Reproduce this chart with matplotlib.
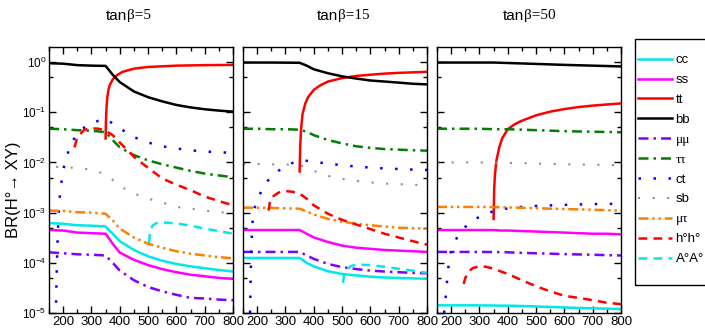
import matplotlib
matplotlib.use("Agg")
from matplotlib import pyplot as plt
from matplotlib.lines import Line2D
from matplotlib.patches import Rectangle
from matplotlib.ticker import LogLocator, MultipleLocator, NullFormatter

# common mass grid (GeV)
m = [150, 200, 250, 300, 350, 375, 400, 450, 500, 550, 600, 650, 700, 750, 800]

# ---- tan(beta) = 5 ----
bb_5 = [0.95, 0.93, 0.87, 0.85, 0.84, 0.56, 0.4, 0.26, 0.2, 0.165, 0.14, 0.125, 0.115, 0.108, 0.103]
tautau_5 = [0.047, 0.046, 0.044, 0.043, 0.04, 0.028, 0.02, 0.014, 0.011, 0.0092, 0.0079, 0.0068, 0.006, 0.0055, 0.0051]
mutau_5 = [0.0011, 0.00108, 0.00102, 0.001, 0.00095, 0.0007, 0.00048, 0.00032, 0.00024, 0.0002, 0.00017, 0.000152, 0.00014, 0.00013, 0.000123]
cc_5 = [0.00062, 0.0006, 0.00056, 0.00055, 0.00053, 0.00038, 0.00027, 0.00018, 0.000135, 0.00011, 0.000095, 0.000085, 0.000078, 0.000072, 0.000067]
ss_5 = [0.00045, 0.00044, 0.0004, 0.00039, 0.00038, 0.00024, 0.00016, 0.000115, 0.00009, 0.000075, 0.000065, 0.000058, 0.000054, 0.00005, 0.000048]
mumu_5 = [0.000162, 0.000155, 0.000148, 0.000145, 0.00014, 0.0001, 0.00007, 0.000045, 0.000033, 0.000027, 0.000023, 0.00002, 0.0000195, 0.0000185, 0.000018]
m_tt_5 = [350, 351, 353, 356, 360, 365, 375, 390, 410, 450, 500, 600, 700, 800]
tt_5 = [0.03, 0.06, 0.12, 0.2, 0.28, 0.35, 0.45, 0.55, 0.64, 0.74, 0.8, 0.85, 0.87, 0.88]
m_ct_5 = [175, 177, 180, 185, 190, 200, 210, 230, 250, 275, 300, 325, 350, 375, 400, 450, 500, 550, 600, 650, 700, 750, 800]
ct_5 = [1.6e-5, 6e-5, 2.5e-4, 1.2e-3, 2.8e-3, 7e-3, 0.012, 0.025, 0.037, 0.05, 0.06, 0.068, 0.074, 0.06, 0.048, 0.032, 0.025, 0.021, 0.019, 0.0175, 0.0165, 0.016, 0.0155]
m_sb_5 = [175, 200, 250, 300, 350, 375, 400, 450, 500, 550, 600, 650, 700, 750, 800]
sb_5 = [0.0082, 0.008, 0.0078, 0.0072, 0.0058, 0.0045, 0.0034, 0.0024, 0.0019, 0.0016, 0.0013, 0.0012, 0.0011, 0.00102, 0.00098]
m_hh_5 = [240, 250, 275, 300, 325, 350, 375, 400, 450, 500, 550, 600, 650, 700, 750, 800]
hh_5 = [0.02, 0.032, 0.045, 0.048, 0.047, 0.043, 0.035, 0.025, 0.013, 0.0078, 0.0048, 0.0036, 0.0028, 0.0021, 0.0017, 0.0014]
m_AA_5 = [503, 507, 515, 530, 550, 600, 650, 700, 750, 800]
AA_5 = [0.00025, 0.0004, 0.00055, 0.00062, 0.00064, 0.00061, 0.00055, 0.00048, 0.00043, 0.00038]

# ---- tan(beta) = 15 ----
bb_15 = [0.98, 0.98, 0.98, 0.975, 0.97, 0.85, 0.72, 0.6, 0.52, 0.47, 0.43, 0.41, 0.39, 0.37, 0.36]
tautau_15 = [0.047, 0.047, 0.046, 0.046, 0.045, 0.041, 0.035, 0.028, 0.024, 0.021, 0.0195, 0.0185, 0.018, 0.0175, 0.0172]
sb_15 = [0.0093, 0.0093, 0.0092, 0.0091, 0.009, 0.0078, 0.0068, 0.0054, 0.0047, 0.0043, 0.004, 0.0038, 0.0037, 0.0036, 0.0035]
mutau_15 = [0.00126, 0.00125, 0.00124, 0.00122, 0.0012, 0.00105, 0.00092, 0.00075, 0.00066, 0.0006, 0.00056, 0.00053, 0.0005, 0.00049, 0.00048]
ss_15 = [0.00045, 0.00045, 0.00045, 0.00045, 0.00045, 0.00038, 0.00032, 0.00026, 0.00022, 0.0002, 0.00019, 0.00018, 0.000175, 0.00017, 0.000165]
mumu_15 = [0.000165, 0.000165, 0.000165, 0.000165, 0.000165, 0.00014, 0.00012, 0.000095, 0.000082, 0.000075, 0.00007, 0.000067, 0.000065, 0.000063, 0.000062]
cc_15 = [0.000125, 0.000125, 0.000125, 0.000125, 0.000125, 0.0001, 0.000085, 0.000068, 0.00006, 0.000056, 0.000053, 0.000051, 0.00005, 0.000049, 0.000048]
m_tt_15 = [350, 352, 355, 360, 370, 380, 400, 425, 450, 500, 550, 600, 650, 700, 750, 800]
tt_15 = [0.0066, 0.02, 0.045, 0.09, 0.15, 0.2, 0.28, 0.35, 0.41, 0.48, 0.53, 0.56, 0.59, 0.61, 0.625, 0.64]
m_ct_15 = [175, 177, 180, 185, 190, 200, 225, 250, 275, 300, 325, 350, 375, 400, 450, 500, 550, 600, 650, 700, 750, 800]
ct_15 = [1e-5, 5e-5, 2.5e-4, 8.5e-4, 1.2e-3, 1.8e-3, 3.5e-3, 5.3e-3, 6.8e-3, 8.3e-3, 9.8e-3, 0.011, 0.0108, 0.0103, 0.0095, 0.0088, 0.0083, 0.0079, 0.0076, 0.0074, 0.0072, 0.0071]
m_hh_15 = [240, 245, 250, 275, 300, 325, 350, 375, 400, 450, 500, 550, 600, 650, 700, 750, 800]
hh_15 = [0.0011, 0.0016, 0.002, 0.0025, 0.0027, 0.0026, 0.0024, 0.0019, 0.0014, 0.00095, 0.00072, 0.00058, 0.00047, 0.00038, 0.00032, 0.00027, 0.00023]
m_AA_15 = [503, 507, 515, 530, 550, 600, 650, 700, 750, 800]
AA_15 = [0.00004, 0.000055, 0.00007, 0.000085, 0.000093, 0.00009, 0.000083, 0.000076, 0.00007, 0.000063]

# ---- tan(beta) = 50 ----
bb_50 = [0.98, 0.98, 0.98, 0.98, 0.98, 0.97, 0.96, 0.94, 0.92, 0.9, 0.88, 0.865, 0.85, 0.835, 0.82]
tautau_50 = [0.047, 0.047, 0.047, 0.047, 0.046, 0.046, 0.046, 0.045, 0.044, 0.043, 0.042, 0.0415, 0.041, 0.0405, 0.04]
sb_50 = [0.01, 0.01, 0.01, 0.01, 0.0099, 0.0099, 0.0098, 0.0097, 0.0095, 0.0094, 0.0092, 0.0091, 0.009, 0.0089, 0.0088]
mutau_50 = [0.0013, 0.0013, 0.0013, 0.0013, 0.00129, 0.00128, 0.00127, 0.00125, 0.00123, 0.0012, 0.00118, 0.00116, 0.00114, 0.00112, 0.0011]
ss_50 = [0.00045, 0.00045, 0.00045, 0.00045, 0.00045, 0.00044, 0.00044, 0.00043, 0.00042, 0.00041, 0.0004, 0.00039, 0.00038, 0.00038, 0.00037]
mumu_50 = [0.000165, 0.000165, 0.000165, 0.000165, 0.000164, 0.000163, 0.000162, 0.000158, 0.000155, 0.000152, 0.000149, 0.000147, 0.000145, 0.000142, 0.00014]
cc_50 = [1.42e-5, 1.42e-5, 1.42e-5, 1.42e-5, 1.41e-5, 1.4e-5, 1.4e-5, 1.38e-5, 1.35e-5, 1.32e-5, 1.29e-5, 1.26e-5, 1.24e-5, 1.22e-5, 1.2e-5]
m_tt_50 = [350, 352, 355, 360, 370, 380, 400, 425, 450, 500, 550, 600, 650, 700, 750, 800]
tt_50 = [0.00075, 0.003, 0.006, 0.011, 0.02, 0.03, 0.046, 0.058, 0.068, 0.087, 0.103, 0.116, 0.127, 0.136, 0.143, 0.15]
m_ct_50 = [175, 178, 182, 185, 190, 200, 225, 250, 275, 300, 325, 350, 400, 450, 500, 600, 700, 800]
ct_50 = [1e-5, 1.5e-5, 2.5e-5, 4e-5, 8e-5, 1.8e-4, 3.6e-4, 5.2e-4, 6.8e-4, 8.3e-4, 9.5e-4, 1.07e-3, 1.22e-3, 1.3e-3, 1.36e-3, 1.43e-3, 1.48e-3, 1.5e-3]
m_hh_50 = [244, 250, 260, 275, 300, 325, 350, 400, 450, 500, 550, 600, 650, 700, 750, 800]
hh_50 = [3.8e-5, 5e-5, 6.5e-5, 7.8e-5, 8.6e-5, 8.3e-5, 7.6e-5, 6e-5, 4.5e-5, 3.4e-5, 2.7e-5, 2.2e-5, 2e-5, 1.8e-5, 1.6e-5, 1.5e-5]

titles = ["5", "15", "50"]
labels = ["cc", "ss", "tt", "bb", "\u03bc\u03bc", "\u03c4\u03c4", "ct", "sb", "\u03bc\u03c4", "h\u00b0h\u00b0", "A\u00b0A\u00b0"]

# style per channel: colour, linestyle, linewidth
styles = {
    "cc": ("#00e8e8", "-", 1.8),
    "ss": ("#ff00ff", "-", 1.8),
    "tt": ("#ff0000", "-", 1.8),
    "bb": ("#000000", "-", 1.8),
    "mumu": ("#7f00ff", (0, (4, 2, 1, 2)), 1.8),
    "tautau": ("#007f00", (0, (4, 2, 1, 2)), 1.8),
    "ct": ("#0000ff", (0, (1, 5)), 1.8),
    "sb": ("#909090", (0, (1, 6)), 1.5),
    "mutau": ("#ff8000", (0, (4, 1.5, 1, 1.5, 1, 1.5)), 1.8),
    "hh": ("#ff0000", (0, (3.5, 2.5)), 1.8),
    "AA": ("#00e8e8", (0, (3.5, 2.5)), 1.8),
}
order = ["cc", "ss", "tt", "bb", "mumu", "tautau", "ct", "sb", "mutau", "hh", "AA"]

panels = [
    {
        "cc": (m, cc_5), "ss": (m, ss_5), "tt": (m_tt_5, tt_5), "bb": (m, bb_5),
        "mumu": (m, mumu_5), "tautau": (m, tautau_5), "ct": (m_ct_5, ct_5),
        "sb": (m_sb_5, sb_5), "mutau": (m, mutau_5), "hh": (m_hh_5, hh_5), "AA": (m_AA_5, AA_5),
    },
    {
        "cc": (m, cc_15), "ss": (m, ss_15), "tt": (m_tt_15, tt_15), "bb": (m, bb_15),
        "mumu": (m, mumu_15), "tautau": (m, tautau_15), "ct": (m_ct_15, ct_15),
        "sb": (m, sb_15), "mutau": (m, mutau_15), "hh": (m_hh_15, hh_15), "AA": (m_AA_15, AA_15),
    },
    {
        "cc": (m, cc_50), "ss": (m, ss_50), "tt": (m_tt_50, tt_50), "bb": (m, bb_50),
        "mumu": (m, mumu_50), "tautau": (m, tautau_50), "ct": (m_ct_50, ct_50),
        "sb": (m, sb_50), "mutau": (m, mutau_50), "hh": (m_hh_50, hh_50),
    },
]

plt.rcParams["font.family"] = ["Liberation Sans", "DejaVu Sans"]
plt.rcParams["mathtext.fontset"] = "custom"
plt.rcParams["mathtext.rm"] = "Liberation Sans"

W, H = 705, 332
fig = plt.figure(figsize=(W / 100, H / 100), dpi=100)

lefts = [49, 243, 437]
title_split = [127, 338, 524]
for i, data in enumerate(panels):
    ax = fig.add_axes([lefts[i] / W, 1 - 313 / H, 184 / W, 266 / H])
    for key in order:
        if key not in data:
            continue
        x, y = data[key]
        c, ls, lw = styles[key]
        ax.plot(x, y, color=c, linestyle=ls, linewidth=lw)
    ax.set_yscale("log")
    ax.set_xlim(150, 800)
    ax.set_ylim(1e-5, 2)
    ax.xaxis.set_major_locator(MultipleLocator(100))
    ax.xaxis.set_minor_locator(MultipleLocator(50))
    ax.yaxis.set_major_locator(LogLocator(base=10, numticks=10))
    ax.yaxis.set_minor_locator(LogLocator(base=10, subs=[5], numticks=10))
    ax.yaxis.set_minor_formatter(NullFormatter())
    ax.tick_params(which="both", direction="in", top=True, right=True, width=1)
    ax.tick_params(which="major", length=5, labelsize=9.5, pad=2)
    ax.tick_params(which="minor", length=3)
    ax.tick_params(axis="y", labelsize=8.5)
    for s in ax.spines.values():
        s.set_linewidth(1)
    if i > 0:
        ax.set_yticklabels([])
    # title: "tan" sans, "beta=.." serif
    fig.text(title_split[i] / W, 1 - 16 / H, "tan", ha="right", va="center", fontsize=11)
    fig.text(title_split[i] / W, 1 - 16 / H, "\u03b2=" + titles[i], ha="left", va="center",
             fontsize=11, family="Liberation Serif")

fig.text(14 / W, 1 - 190 / H, "BR(H\u00b0\u2192 XY)", rotation=90, ha="center", va="center",
         fontsize=12, family=["Liberation Sans", "DejaVu Sans"])

handles = [Line2D([], [], color=styles[k][0], linestyle=styles[k][1], linewidth=styles[k][2]) for k in order]
leg = fig.legend(handles, labels, loc="upper left", bbox_to_anchor=(638 / W, 1 - 54 / H),
                 fontsize=9.5, frameon=False, handlelength=2.6, handletextpad=0.25,
                 labelspacing=0.58, borderpad=0, borderaxespad=0)
for t, lab in zip(leg.get_texts(), labels):
    if lab in ("\u03bc\u03bc", "\u03c4\u03c4", "\u03bc\u03c4"):
        t.set_family("Liberation Serif")

# legend box, running past the right edge like the original
fig.add_artist(Rectangle((635 / W, 1 - 285 / H), 80 / W, 246 / H, transform=fig.transFigure,
                         fill=False, edgecolor="black", linewidth=1))

fig.savefig("out.png", dpi=100)
